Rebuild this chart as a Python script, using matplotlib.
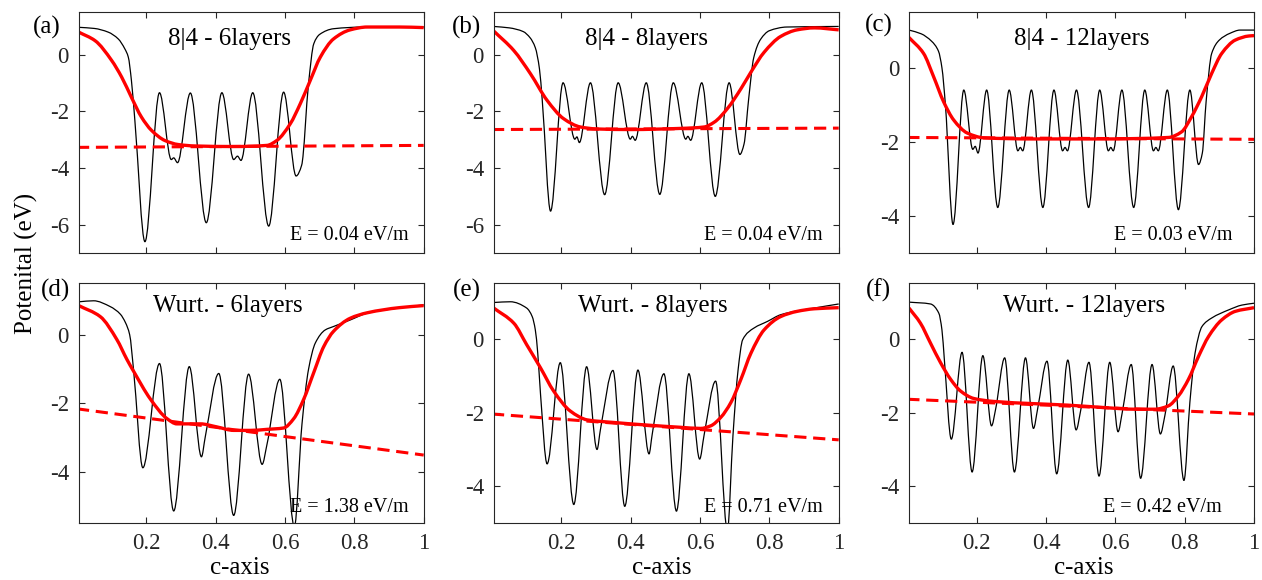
import numpy as np
import matplotlib
matplotlib.use("Agg")
import matplotlib.pyplot as plt
from matplotlib.path import Path
from matplotlib.patches import PathPatch

plt.rcParams['font.family'] = ['Liberation Serif', 'DejaVu Serif']
plt.rcParams['axes.unicode_minus'] = False

# ---- data: potential along c-axis (eV) ----
# (a) 8|4 - 6 layers
a_bx = [0.005, 0.05, 0.09, 0.119, 0.138, 0.148, 0.157, 0.167, 0.196, 0.238, 0.272, 0.279, 0.29,
        0.327, 0.373, 0.418, 0.452, 0.463, 0.473, 0.507, 0.553, 0.596, 0.632, 0.648, 0.668,
        0.683, 0.70, 0.74, 0.83, 1.0]
a_by = [0.97, 0.93, 0.80, 0.56, 0.21, -0.08, -0.9, -2.32, -6.6, -1.34, -3.70, -3.64, -3.81,
        -1.35, -5.93, -1.34, -3.70, -3.58, -3.73, -1.34, -6.05, -1.32, -4.28, -3.9, -1.0,
        0.39, 0.72, 0.92, 0.98, 0.98]
a_rx = [0.005, 0.052, 0.1, 0.129, 0.157, 0.186, 0.215, 0.254, 0.292, 0.34, 0.452, 0.548,
        0.577, 0.615, 0.644, 0.673, 0.702, 0.74, 0.788, 0.837, 0.93, 1.0]
a_ry = [0.80, 0.5, -0.2, -0.79, -1.5, -2.2, -2.67, -3.03, -3.17, -3.22, -3.24, -3.2,
        -3.02, -2.44, -1.73, -0.9, -0.08, 0.56, 0.88, 0.98, 0.98, 0.96]
a_dash = [-3.27, -3.20]

# (b) 8|4 - 8 layers
b_bx = [0.005, 0.05, 0.09, 0.11, 0.125, 0.137, 0.145, 0.169, 0.205, 0.239, 0.245, 0.252,
        0.284, 0.325, 0.364, 0.399, 0.405, 0.413, 0.445, 0.484, 0.523, 0.559, 0.565, 0.573,
        0.605, 0.644, 0.684, 0.715, 0.727, 0.74, 0.755, 0.775, 0.80, 0.85, 1.0]
b_by = [1.0, 0.95, 0.82, 0.6, 0.25, -0.5, -1.6, -5.52, -0.99, -2.98, -2.9, -3.1,
        -0.99, -4.94, -0.99, -2.98, -2.88, -3.02, -0.99, -4.93, -0.99, -2.98, -2.88, -3.02,
        -0.99, -5.0, -0.99, -3.52, -3.15, -1.6, -0.1, 0.55, 0.85, 0.98, 1.0]
b_rx = [0.005, 0.063, 0.111, 0.159, 0.207, 0.255, 0.303, 0.4, 0.544, 0.612, 0.641, 0.679,
        0.718, 0.747, 0.785, 0.833, 0.88, 0.93, 1.0]
b_ry = [0.84, 0.15, -0.67, -1.61, -2.26, -2.55, -2.62, -2.64, -2.6, -2.55, -2.38, -1.9,
        -1.2, -0.61, 0.09, 0.65, 0.88, 0.95, 0.88]
b_dash = [-2.64, -2.59]

# (c) 8|4 - 12 layers
c_bx = [0.005, 0.04, 0.07, 0.09, 0.1, 0.11, 0.132, 0.163, 0.189, 0.196, 0.204, 0.229,
        0.261, 0.294, 0.319, 0.326, 0.333, 0.358, 0.391, 0.423, 0.448, 0.455, 0.462,
        0.488, 0.523, 0.555, 0.580, 0.587, 0.594, 0.619, 0.653, 0.685, 0.710, 0.717, 0.724,
        0.75, 0.782, 0.815, 0.84, 0.851, 0.862, 0.878, 0.9, 0.93, 0.96, 1.0]
c_by = [1.02, 0.92, 0.72, 0.45, 0.0, -1.0, -4.23, -0.6, -2.2, -2.12, -2.3, -0.6,
        -3.77, -0.6, -2.24, -2.15, -2.24, -0.6, -3.77, -0.6, -2.24, -2.15, -2.24,
        -0.6, -3.77, -0.6, -2.24, -2.15, -2.24, -0.6, -3.77, -0.6, -2.24, -2.15, -2.24,
        -0.6, -3.83, -0.6, -2.61, -2.3, -0.9, 0.39, 0.75, 0.93, 1.02, 1.02]
c_rx = [0.005, 0.047, 0.076, 0.105, 0.134, 0.173, 0.221, 0.366, 0.56, 0.753, 0.791, 0.82,
        0.849, 0.878, 0.907, 0.946, 0.985, 1.0]
c_ry = [0.82, 0.39, -0.24, -0.92, -1.41, -1.76, -1.89, -1.92, -1.92, -1.88, -1.73, -1.32,
        -0.78, -0.15, 0.39, 0.75, 0.86, 0.87]
c_dash = [-1.88, -1.93]

# (d) Wurtzite - 6 layers
d_bx = [0.005, 0.048, 0.096, 0.125, 0.14, 0.152, 0.163, 0.19, 0.238, 0.279, 0.324, 0.359,
        0.37, 0.409, 0.452, 0.495, 0.534, 0.548, 0.585, 0.627, 0.649, 0.668, 0.6875, 0.716,
        0.74, 0.788, 0.837, 0.885, 1.0]
d_by = [0.96, 0.99, 0.82, 0.6, 0.35, 0.0, -1.0, -3.88, -0.84, -5.14, -0.93, -3.56,
        -2.98, -1.13, -5.27, -1.15, -3.78, -3.2, -1.3, -5.6, -2.6, -1.0, -0.24, 0.14,
        0.24, 0.43, 0.63, 0.72, 0.87]
d_rx = [0.005, 0.067, 0.115, 0.144, 0.163, 0.212, 0.26, 0.288, 0.356, 0.404, 0.452, 0.5,
        0.548, 0.596, 0.625, 0.654, 0.683, 0.712, 0.74, 0.788, 0.837, 0.93, 1.0]
d_ry = [0.85, 0.53, -0.14, -0.72, -1.06, -1.88, -2.45, -2.6, -2.6, -2.69, -2.79, -2.79,
        -2.76, -2.72, -2.45, -1.88, -1.1, -0.34, 0.1, 0.48, 0.64, 0.79, 0.85]
d_dash = [-2.16, -3.51]

# (e) Wurtzite - 8 layers
e_bx = [0.005, 0.053, 0.1, 0.116, 0.125, 0.132, 0.14, 0.159, 0.197, 0.236, 0.273, 0.303,
        0.313, 0.349, 0.383, 0.421, 0.453, 0.462, 0.496, 0.532, 0.568, 0.599, 0.612, 0.645,
        0.679, 0.695, 0.71, 0.723, 0.756, 0.795, 0.833, 0.93, 1.0]
e_by = [0.98, 1.0, 0.83, 0.6, 0.24, -0.39, -1.5, -3.39, -0.65, -4.49, -0.76, -3.0,
        -2.45, -0.86, -4.54, -0.85, -3.12, -2.6, -0.95, -4.67, -0.95, -3.26, -2.6, -1.15,
        -5.2, -2.63, -0.83, -0.03, 0.29, 0.47, 0.65, 0.83, 0.94]
e_rx = [0.005, 0.063, 0.1, 0.14, 0.178, 0.226, 0.275, 0.352, 0.448, 0.544, 0.602, 0.631,
        0.66, 0.689, 0.718, 0.747, 0.785, 0.833, 0.88, 0.93, 1.0]
e_ry = [0.83, 0.42, -0.16, -0.79, -1.42, -1.96, -2.2, -2.27, -2.34, -2.4, -2.43, -2.36,
        -2.13, -1.73, -1.1, -0.39, 0.24, 0.6, 0.74, 0.81, 0.84]
e_dash = [-2.04, -2.74]

# (f) Wurtzite - 12 layers
f_bx = [0.005, 0.067, 0.091, 0.1, 0.107, 0.127, 0.158, 0.187, 0.218, 0.243, 0.255, 0.281,
        0.309, 0.341, 0.364, 0.376, 0.403, 0.431, 0.463, 0.487, 0.5, 0.524, 0.553, 0.584,
        0.608, 0.62, 0.646, 0.673, 0.706, 0.73, 0.743, 0.767, 0.798, 0.815, 0.83, 0.85,
        0.878, 0.927, 0.965, 1.0]
f_by = [0.99, 0.94, 0.69, 0.24, -0.57, -2.72, -0.37, -3.61, -0.46, -2.36, -1.9, -0.52,
        -3.61, -0.52, -2.43, -1.9, -0.61, -3.66, -0.58, -2.47, -1.95, -0.64, -3.72, -0.64,
        -2.52, -2.0, -0.7, -3.78, -0.7, -2.58, -2.08, -0.74, -3.84, -1.73, -0.39, 0.33,
        0.56, 0.78, 0.91, 0.96]
f_rx = [0.005, 0.038, 0.067, 0.096, 0.125, 0.154, 0.192, 0.25, 0.366, 0.463, 0.559, 0.656,
        0.714, 0.753, 0.782, 0.811, 0.84, 0.869, 0.907, 0.946, 1.0]
f_ry = [0.83, 0.42, -0.12, -0.65, -1.1, -1.42, -1.62, -1.7, -1.76, -1.8, -1.86, -1.91,
        -1.91, -1.82, -1.55, -1.1, -0.48, 0.06, 0.51, 0.74, 0.84]
f_dash = [-1.64, -2.04]

dash_x = [0.0, 1.0]

labels = ['(a)', '(b)', '(c)', '(d)', '(e)', '(f)']
titles = ['8|4 - 6layers', '8|4 - 8layers', '8|4 - 12layers',
          'Wurt. - 6layers', 'Wurt. - 8layers', 'Wurt. - 12layers']
fields = ['E = 0.04 eV/m', 'E = 0.04 eV/m', 'E = 0.03 eV/m',
          'E = 1.38 eV/m', 'E = 0.71 eV/m', 'E = 0.42 eV/m']
ylims = [(-7, 1.5), (-7, 1.5), (-5, 1.5), (-5.5, 1.5), (-5, 1.5), (-5, 1.5)]
yticks = [[-6, -4, -2, 0], [-6, -4, -2, 0], [-4, -2, 0], [-4, -2, 0], [-4, -2, 0], [-4, -2, 0]]
xticks = [0.2, 0.4, 0.6, 0.8, 1]
xticklabels = ['0.2', '0.4', '0.6', '0.8', '1']

panels = [(a_bx, a_by, a_rx, a_ry, a_dash), (b_bx, b_by, b_rx, b_ry, b_dash),
          (c_bx, c_by, c_rx, c_ry, c_dash), (d_bx, d_by, d_rx, d_ry, d_dash),
          (e_bx, e_by, e_rx, e_ry, e_dash), (f_bx, f_by, f_rx, f_ry, f_dash)]

# text placement: titles / field labels in axes fraction, panel letters in pixels
title_x = [0.436, 0.443, 0.50, 0.433, 0.46, 0.507]
field_x = [0.955, 0.953, 0.939, 0.955, 0.953, 0.907]
xlabel_x = [0.4675, 0.488, 0.507]
letter_px = [(47, 27), (467, 27), (879, 25), (56, 290), (467, 290), (878, 290)]


def smooth_path(x, y):
    """Monotone cubic through the points, drawn as Bezier segments."""
    x = np.asarray(x, float)
    y = np.asarray(y, float)
    h = np.diff(x)
    d = np.diff(y) / h
    m = np.zeros_like(y)
    m[0], m[-1] = d[0], d[-1]
    for k in range(1, len(x) - 1):
        if d[k - 1] * d[k] > 0:
            w1 = 2 * h[k] + h[k - 1]
            w2 = h[k] + 2 * h[k - 1]
            m[k] = (w1 + w2) / (w1 / d[k - 1] + w2 / d[k])
    verts = [(x[0], y[0])]
    codes = [Path.MOVETO]
    for k in range(len(h)):
        verts += [(x[k] + h[k] / 3, y[k] + m[k] * h[k] / 3),
                  (x[k + 1] - h[k] / 3, y[k + 1] - m[k + 1] * h[k] / 3),
                  (x[k + 1], y[k + 1])]
        codes += [Path.CURVE4] * 3
    return Path(verts, codes)


W, H = 1262, 580
fig = plt.figure(figsize=(W / 100, H / 100), dpi=100)

lefts = [78.7, 493.7, 909]
tops = [12.3, 283.3]
bottoms = [253, 523.3]
gray = '#262626'

for i, (bx, by, rx, ry, dash) in enumerate(panels):
    row, col = divmod(i, 3)
    rect = [lefts[col] / W, 1 - bottoms[row] / H, 345 / W, (bottoms[row] - tops[row]) / H]
    ax = fig.add_axes(rect)

    ax.add_patch(PathPatch(smooth_path(bx, by), fill=False, edgecolor='k', lw=0.9))
    ax.add_patch(PathPatch(smooth_path(rx, ry), fill=False, edgecolor='red', lw=2.4))
    ax.plot(dash_x, dash, color='red', lw=2.2, dashes=(4, 2.2))

    ax.set_xlim(0.005, 1)
    ax.set_ylim(*ylims[i])
    ax.set_xticks(xticks)
    ax.set_yticks(yticks[i])
    ax.set_yticklabels([str(t) for t in yticks[i]])
    ax.tick_params(direction='in', top=True, right=True, length=4.5, width=0.8,
                   colors=gray, labelsize=16.5, pad=7)
    for s in ax.spines.values():
        s.set_color(gray)
        s.set_linewidth(0.8)
    if row == 0:
        ax.tick_params(labelbottom=False)
    else:
        ax.set_xticklabels(xticklabels)
        ax.set_xlabel('c-axis', fontsize=18, labelpad=2)
        ax.xaxis.label.set_x(xlabel_x[col])

    ty = 0.864 if row == 0 else 0.882
    ax.text(title_x[i], ty, titles[i], transform=ax.transAxes, ha='center', va='baseline',
            fontsize=18)
    fy = 0.054 if row == 0 else 0.047
    ax.text(field_x[i], fy, fields[i], transform=ax.transAxes, ha='right', va='baseline',
            fontsize=14.5)
    lx, ly = letter_px[i]
    fig.text(lx / W, 1 - ly / H, labels[i], ha='center', va='center', fontsize=18)

fig.text(26 / W, 1 - 263 / H, 'Potenital (eV)', rotation=90, ha='center', va='center',
         fontsize=18)

fig.savefig('out.png', dpi=100)
